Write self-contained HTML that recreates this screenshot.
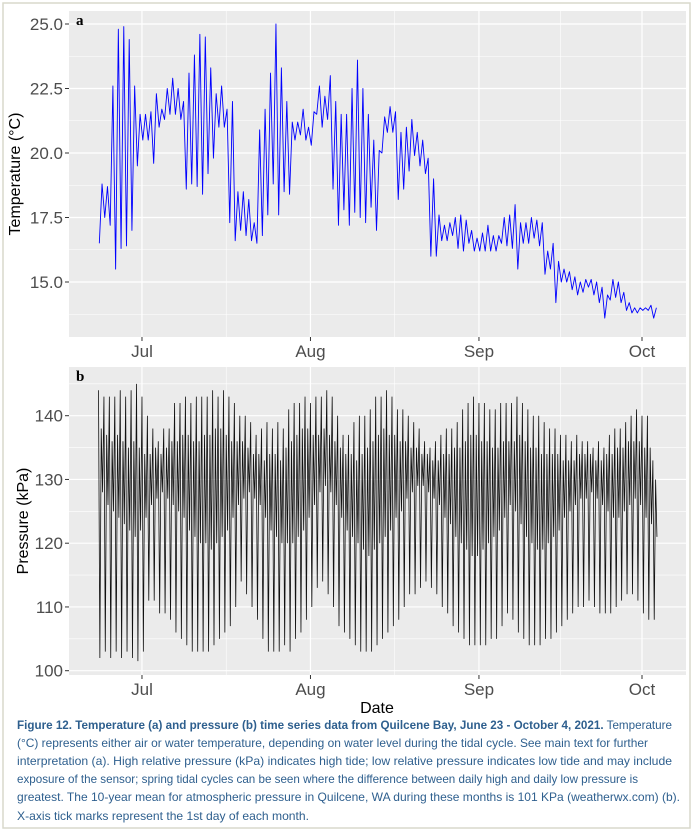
<!DOCTYPE html>
<html><head><meta charset="utf-8"><style>
html,body{margin:0;padding:0;background:#fff;}
svg{display:block;font-family:"Liberation Sans",sans-serif;}
</style></head><body>
<svg id="fig" width="693" height="832" viewBox="0 0 693 832">
<rect x="3" y="3" width="687" height="825" fill="#fff" stroke="#d9d9cc" stroke-width="1.5"/>
<g id="pa"></g>
<g id="pb"></g>
<g fill="#2e5f8e" font-size="12">
<text x="17" y="729" textLength="655" lengthAdjust="spacingAndGlyphs"><tspan font-weight="bold">Figure 12. Temperature (a) and pressure (b) time series data from Quilcene Bay, June 23 - October 4, 2021.</tspan> Temperature</text>
<text x="17" y="747" textLength="631" lengthAdjust="spacingAndGlyphs">(°C) represents either air or water temperature, depending on water level during the tidal cycle. See main text for further</text>
<text x="17" y="765" textLength="655" lengthAdjust="spacingAndGlyphs">interpretation (a). High relative pressure (kPa) indicates high tide; low relative pressure indicates low tide and may include</text>
<text x="17" y="783" textLength="621" lengthAdjust="spacingAndGlyphs">exposure of the sensor; spring tidal cycles can be seen where the difference between daily high and daily low pressure is</text>
<text x="17" y="801" textLength="663" lengthAdjust="spacingAndGlyphs">greatest. The 10-year mean for atmospheric pressure in Quilcene, WA during these months is 101 KPa (weatherwx.com) (b).</text>
<text x="17" y="820" textLength="292" lengthAdjust="spacingAndGlyphs">X-axis tick marks represent the 1st day of each month.</text>
</g>
</svg>
<script>
const monthLabels=["Jul","Aug","Sep","Oct"];
const monthDays=[8,39,70,100];
const tempTicks=[15,17.5,20,22.5,25];
const presTicks=[100,110,120,130,140];
const tHigh=[18.8,18.7,22.6,24.8,24.9,24.4,22.6,21.5,21.5,21.6,22.3,21.7,22.5,22.9,22.5,22.0,23.1,23.8,24.6,24.5,23.3,22.3,22.6,21.7,22.0,18.5,18.5,18.2,17.3,20.9,21.7,23.1,25.0,23.3,22.0,21.2,21.2,21.7,21.0,21.6,22.6,22.2,23.0,22.0,21.5,21.5,22.5,23.6,22.5,21.5,20.5,20.1,21.4,21.8,21.6,20.8,21.0,21.3,20.8,20.5,19.8,19.0,17.6,17.2,17.3,17.5,17.6,17.4,17.0,16.7,16.9,17.2,16.8,16.8,17.5,17.6,18.0,17.3,17.3,17.5,17.4,17.3,16.2,16.5,15.8,15.5,15.4,15.2,15.0,15.1,15.1,15.0,14.8,14.5,15.1,15.0,14.6,14.2,14.0,14.0,14.0,14.1,14.0];
const tLow=[16.5,17.5,17.2,15.5,16.3,16.4,17.0,19.5,20.5,20.5,19.6,21.0,21.3,21.5,21.5,21.3,18.6,18.8,18.7,18.4,19.2,19.8,21.0,21.0,17.3,16.6,17.0,16.8,16.6,16.5,16.8,17.6,18.8,17.6,18.5,18.4,20.5,20.7,20.5,20.3,21.5,21.0,21.3,18.6,17.2,17.8,17.2,17.7,17.5,17.3,17.9,17.0,20.0,20.8,20.8,18.2,18.6,19.3,19.9,19.5,19.2,16.0,16.0,16.6,16.6,16.8,16.3,16.2,16.5,16.2,16.2,16.2,16.2,16.2,16.5,16.4,16.3,15.5,16.5,16.5,16.7,16.4,15.3,15.5,14.2,15.0,15.0,14.7,14.5,14.6,14.8,14.5,14.2,13.6,14.3,14.4,14.2,13.9,13.8,13.8,13.9,13.9,13.6];
const pHigh=[144,143,143,143,144,143,144,145,143,140,138,136,138,138,142,142,143,142,143,143,143,144,143,144,143,142,140,140,139,137,138,139,138,139,138,141,142,142,143,142,143,143,144,143,140,137,137,139,140,140,141,143,143,144,143,141,141,140,139,138,136,135,136,137,138,138,139,141,142,143,142,142,141,141,142,142,142,143,142,141,140,140,139,138,138,137,137,136,137,136,136,135,136,135,137,138,138,139,140,141,140,140,133];
const pLow=[102,103,102,103,102,103,102,101.5,103,111,111,109,109,108,106,105,104,103,103,103,103,104,105,106,107,110,114,112,110,108,105,103,103,103,104,103,105,106,108,110,113,114,112,110,107,106,105,104,103,103,103,104,105,106,107,108,110,112,112,113,114,113,112,110,109,107,106,105,104,104,104,104,105,105,107,109,108,106,105,104,104,104,105,105,106,107,108,109,110,110,111,110,109,109,109,110,111,112,112,111,109,108,108];
const pHigh2=[138,137,136,137,136,135,136,135,134,134,135,134,135,136,136,137,137,136,136,137,137,138,138,137,136,136,136,135,134,134,133,134,134,133,135,136,137,138,138,137,137,138,137,136,135,134,134,133,134,135,136,137,138,137,137,136,136,135,135,134,134,133,133,134,134,135,135,136,137,137,136,136,135,135,136,136,136,137,136,135,135,134,134,134,134,133,133,133,134,134,134,133,133,134,134,135,135,136,136,136,135,135,130];
const pLow2=[128,126,125,124,123,122,121,122,124,126,127,128,127,126,125,124,122,121,120,120,119,120,121,122,124,126,127,128,127,126,124,122,121,120,120,120,121,122,124,126,128,129,128,126,124,122,121,120,119,118,119,120,121,122,124,125,127,128,129,129,128,127,126,124,123,121,120,119,118,118,119,120,121,122,124,126,125,123,121,120,119,119,120,121,122,124,125,126,127,127,128,127,126,125,124,124,125,126,127,126,124,123,121];

const NS="http://www.w3.org/2000/svg";
const X0=69,X1=686,DAY0X=98.5,PXD=5.435;
function xDay(d){return DAY0X+d*PXD;}
function mk(tag,attrs,parent){const e=document.createElementNS(NS,tag);for(const k in attrs)e.setAttribute(k,attrs[k]);parent.appendChild(e);return e;}

function panel(g,top,bot,yScale,ticks,minors,fmt,title,titleX,letter){
  const bg=mk('rect',{x:X0,y:top,width:X1-X0,height:bot-top,fill:'#ebebeb'},g);
  
  
  minors.forEach(v=>{const l=mk('line',{x1:X0,x2:X1,y1:yScale(v),y2:yScale(v),stroke:'#fff','stroke-width':0.6},g);
    
    });
  [23.5,54.5,85].forEach(d=>{const l=mk('line',{x1:xDay(d),x2:xDay(d),y1:top,y2:bot,stroke:'#fff','stroke-width':0.6},g);
    
    });
  ticks.forEach(v=>{const y=yScale(v);
    const l=mk('line',{x1:X0,x2:X1,y1:y,y2:y,stroke:'#fff','stroke-width':1.2},g);
    
    
    const tk=mk('line',{x1:X0-4,x2:X0,y1:y,y2:y,stroke:'#333','stroke-width':1},g);
    
    
    const t=mk('text',{x:X0-6,y:y+6,'text-anchor':'end','font-size':17,fill:'#4d4d4d'},g);
    t.textContent=fmt(v);
    
    });
  monthDays.forEach((d,i)=>{const x=xDay(d);
    const l=mk('line',{x1:x,x2:x,y1:top,y2:bot,stroke:'#fff','stroke-width':1.2},g);
    
    
    const tk=mk('line',{x1:x,x2:x,y1:bot,y2:bot+4,stroke:'#333','stroke-width':1},g);
    
    
    const t=mk('text',{x:x,y:bot+20,'text-anchor':'middle','font-size':17,fill:'#4d4d4d'},g);
    t.textContent=monthLabels[i];
    
    });
  const cy=(top+bot)/2;
  const tt=mk('text',{x:titleX,y:cy,'text-anchor':'middle','font-size':16,fill:'#000',transform:'rotate(-90 '+titleX+' '+cy+')'},g);
  tt.textContent=title;
  
  
  const lt=mk('text',{x:76,y:top+14,'font-size':15,'font-weight':'bold','font-family':'Liberation Serif,serif'},g);
  lt.textContent=letter;
  
  
}

// Panel a
const ga=document.getElementById('pa');
const yT=v=>24-(v-25)*25.8;
panel(ga,11,337,yT,tempTicks,[13.75,16.25,18.75,21.25,23.75],v=>v.toFixed(1),'Temperature (°C)',20,'a');
let pts=[];
const nT=Math.min(tHigh.length,tLow.length);
for(let d=0;d<nT;d++){pts.push(xDay(d+0.15).toFixed(2)+','+yT(tLow[d]).toFixed(2));pts.push(xDay(d+0.65).toFixed(2)+','+yT(tHigh[d]).toFixed(2));}
const la=mk('polyline',{points:pts.join(' '),fill:'none',stroke:'#0000ff','stroke-width':0.9,'stroke-linejoin':'round'},ga);



// Panel b
const gb=document.getElementById('pb');
const yP=v=>670.7-(v-100)*6.375;
panel(gb,367,675,yP,presTicks,[105,115,125,135,145],v=>String(v),'Pressure (kPa)',28,'b');
pts=[];
const nP=Math.min(pHigh.length,pLow.length,pHigh2.length,pLow2.length);
for(let d=0;d<nP;d++){
  pts.push(xDay(d).toFixed(2)+','+yP(pHigh[d]).toFixed(2));
  pts.push(xDay(d+0.25).toFixed(2)+','+yP(pLow[d]).toFixed(2));
  pts.push(xDay(d+0.5).toFixed(2)+','+yP(pHigh2[d]).toFixed(2));
  pts.push(xDay(d+0.75).toFixed(2)+','+yP(pLow2[d]).toFixed(2));
}
const lb=mk('polyline',{points:pts.join(' '),fill:'none',stroke:'#111','stroke-width':0.8},gb);


const xt=mk('text',{x:377,y:713,'text-anchor':'middle','font-size':16,fill:'#000'},gb);
xt.textContent='Date';


</script>
</body></html>
